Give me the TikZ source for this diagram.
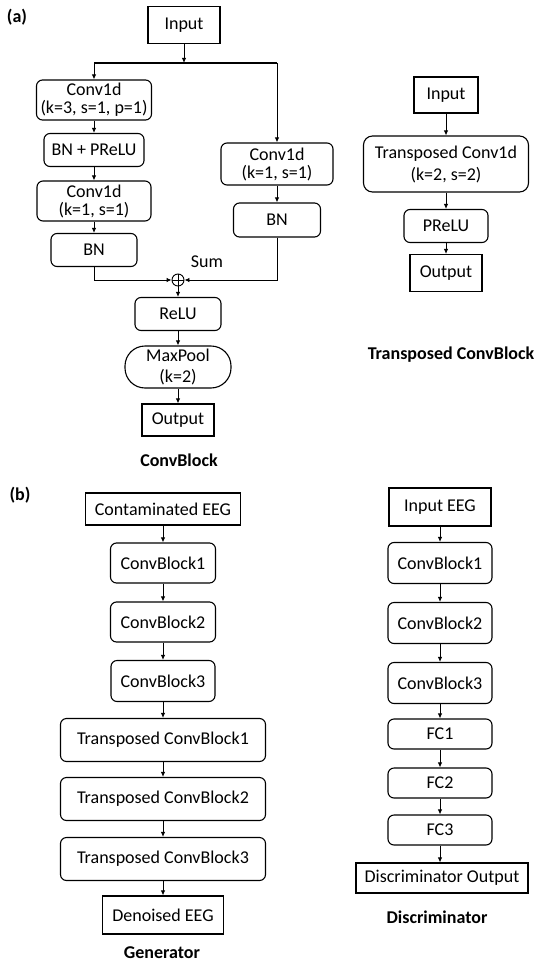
\documentclass[tikz,border=0pt]{standalone}
\usepackage{fontspec}
\setmainfont{Carlito}
\usetikzlibrary{arrows.meta}

\begin{document}
\begin{tikzpicture}[x=1pt,y=-1pt,
  font=\fontsize{18}{18}\selectfont,
  box/.style={draw,line width=1.1pt,inner sep=0pt,align=center},
  rbox/.style={box,rounded corners=6pt},
  arr/.style={line width=0.9pt,-{Latex[length=5pt,width=4.5pt]}},
  lbl/.style={font=\fontsize{18}{18}\selectfont\bfseries}]
  \useasboundingbox (0,0) rectangle (534,963);

  % (a) ConvBlock
  \node[lbl] (tagA) at (17,17) {(a)};
  \node[box,minimum width=72,minimum height=37] (inA) at (184,25) {Input};
  \coordinate (split) at (184,63);
  \node[rbox,minimum width=115,minimum height=40] (conv3) at (94,100) {Conv1d\\(k=3, s=1, p=1)};
  \node[rbox,minimum width=100,minimum height=33] (bnprelu) at (94,150) {BN + PReLU};
  \node[rbox,minimum width=114,minimum height=40] (conv1) at (94,201) {Conv1d\\(k=1, s=1)};
  \node[rbox,minimum width=86,minimum height=33] (bnA) at (94,250) {BN};
  \node[rbox,minimum width=112,minimum height=42] (skipconv) at (277,164) {Conv1d\\(k=1, s=1)};
  \node[rbox,minimum width=87,minimum height=34] (skipbn) at (277,220) {BN};
  \node[draw,circle,line width=0.9pt,minimum size=12,inner sep=0pt] (sum) at (178,280) {};
  \node (sumtxt) at (207,262) {Sum};
  \node[rbox,minimum width=86,minimum height=33] (relu) at (178,314) {ReLU};
  \node[box,rounded corners=20pt,minimum width=106,minimum height=42] (pool) at (178,367)
    {MaxPool\\[3pt](k=2)};
  \node[box,minimum width=72,minimum height=32] (outA) at (178,420) {Output};
  \node[lbl] (capA) at (179,460) {ConvBlock};

  \draw[arr] (inA) -- (split);
  \draw[line width=1.3pt] (conv3.north|-split) -- (skipconv.north|-split);
  \draw[arr] (conv3.north|-split) -- (conv3.north);
  \draw[arr] (skipconv.north|-split) -- (skipconv.north);
  \draw[arr] (conv3) -- (bnprelu);
  \draw[arr] (bnprelu) -- (conv1);
  \draw[arr] (conv1) -- (bnA);
  \draw[arr] (skipconv) -- (skipbn);
  \draw[arr] (bnA.south) |- (sum.west);
  \draw[arr] (skipbn.south) |- (sum.east);
  \draw[line width=0.9pt] (sum.north) -- (sum.south) (sum.west) -- (sum.east);
  \draw[arr] (sum) -- (relu);
  \draw[arr] (relu) -- (pool);
  \draw[arr] (pool) -- (outA);

  % Transposed ConvBlock
  \node[box,minimum width=64,minimum height=36] (inT) at (446,95) {Input};
  \node[rbox,rounded corners=9pt,minimum width=165,minimum height=56] (tconv) at (446,164)
    {Transposed Conv1d\\[4pt](k=2, s=2)};
  \node[rbox,minimum width=84,minimum height=33] (prelu) at (446,226) {PReLU};
  \node[box,minimum width=72,minimum height=37] (outT) at (446,273) {Output};
  \node[lbl] (capT) at (451,355) {Transposed ConvBlock};

  \draw[arr] (inT) -- (tconv);
  \draw[arr] (tconv) -- (prelu);
  \draw[arr] (prelu) -- (outT);

  % (b) Generator
  \node[lbl] (tagB) at (20,495) {(b)};
  \node[box,minimum width=155,minimum height=32] (noisy) at (163,509) {Contaminated EEG};
  \node[rbox,minimum width=105,minimum height=40] (gblock1) at (163,563) {ConvBlock1};
  \node[rbox,minimum width=105,minimum height=40] (gblock2) at (163,622) {ConvBlock2};
  \node[rbox,minimum width=104,minimum height=41] (gblock3) at (163,681) {ConvBlock3};
  \node[rbox,minimum width=205,minimum height=43] (tblock1) at (163,740) {Transposed ConvBlock1};
  \node[rbox,minimum width=205,minimum height=43] (tblock2) at (163,799) {Transposed ConvBlock2};
  \node[rbox,minimum width=205,minimum height=43] (tblock3) at (163,859) {Transposed ConvBlock3};
  \node[box,minimum width=121,minimum height=38] (clean) at (163,915) {Denoised EEG};
  \node[lbl] (capG) at (162,953) {Generator};

  \draw[arr] (noisy) -- (gblock1);
  \draw[arr] (gblock1) -- (gblock2);
  \draw[arr] (gblock2) -- (gblock3);
  \draw[arr] (gblock3) -- (tblock1);
  \draw[arr] (tblock1) -- (tblock2);
  \draw[arr] (tblock2) -- (tblock3);
  \draw[arr] (tblock3) -- (clean);

  % Discriminator
  \node[box,minimum width=102,minimum height=38] (eeg) at (440,507) {Input EEG};
  \node[rbox,minimum width=104,minimum height=41] (dblock1) at (440,563) {ConvBlock1};
  \node[rbox,minimum width=104,minimum height=41] (dblock2) at (440,623) {ConvBlock2};
  \node[rbox,minimum width=104,minimum height=41] (dblock3) at (440,683) {ConvBlock3};
  \node[rbox,minimum width=104,minimum height=30] (fc1) at (440,734) {FC1};
  \node[rbox,minimum width=104,minimum height=30] (fc2) at (440,783) {FC2};
  \node[rbox,minimum width=104,minimum height=30] (fc3) at (440,830) {FC3};
  \node[box,minimum width=172,minimum height=30] (dout) at (442,878) {Discriminator Output};
  \node[lbl] (capD) at (437,917) {Discriminator};

  \draw[arr] (eeg) -- (dblock1);
  \draw[arr] (dblock1) -- (dblock2);
  \draw[arr] (dblock2) -- (dblock3);
  \draw[arr] (dblock3) -- (fc1);
  \draw[arr] (fc1) -- (fc2);
  \draw[arr] (fc2) -- (fc3);
  \draw[arr] (fc3) -- (dout.north-|fc3);
\end{tikzpicture}
\end{document}
